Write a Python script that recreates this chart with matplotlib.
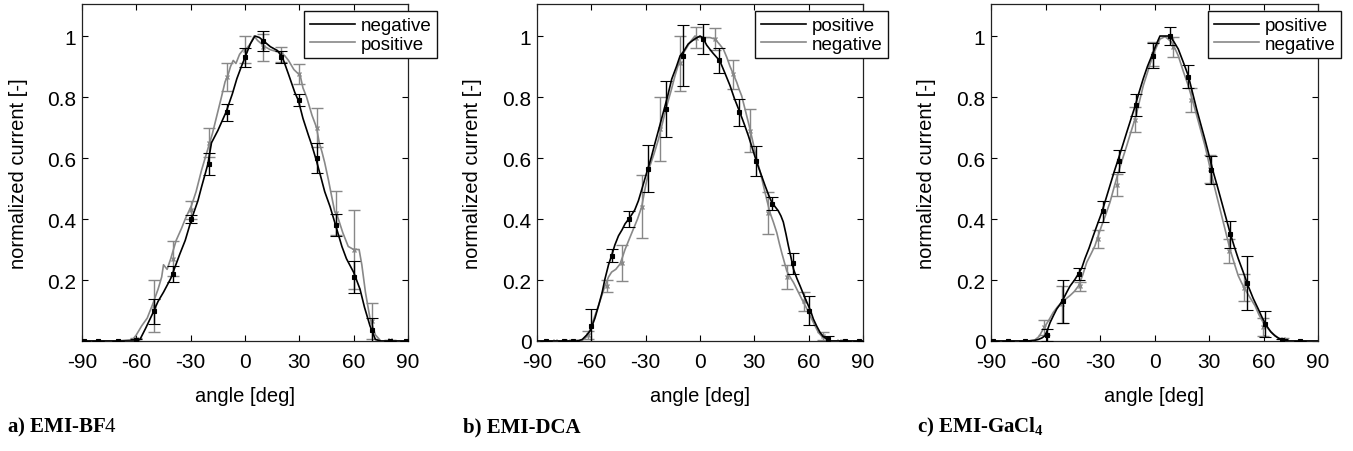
import matplotlib
matplotlib.use("Agg")
import matplotlib.pyplot as plt

plt.rcParams['font.family'] = ['Liberation Sans', 'DejaVu Sans']
plt.rcParams['mathtext.fontset'] = 'custom'
plt.rcParams['mathtext.rm'] = 'Liberation Serif'
plt.rcParams['mathtext.bf'] = 'Liberation Serif:bold'

BLACK = '#000000'
GRAY = '#888888'

# ---------------- Panel a: EMI-BF4 ----------------
a_neg_x = [-90, -70, -60, -58, -55, -51, -48, -45, -41, -36,
           -33, -29.5, -26, -24, -20.5, -18.5, -15, -10.5, -7, -4.5,
           -2, 0, 3, 5.5, 8, 11, 14, 18, 21, 24,
           27.5, 29.5, 32, 35, 37, 39.5, 42, 44, 47, 49,
           51, 53.5, 56, 60, 63.5, 66, 69, 72, 75, 90]
a_neg_y = [0, 0, 0, 0.005, 0.04, 0.09, 0.13, 0.16, 0.205, 0.285,
           0.33, 0.40, 0.46, 0.505, 0.58, 0.65, 0.69, 0.75, 0.81, 0.86,
           0.90, 0.93, 0.975, 1.0, 0.995, 0.98, 0.965, 0.952, 0.925, 0.875,
           0.815, 0.788, 0.73, 0.675, 0.64, 0.59, 0.535, 0.49, 0.44, 0.40,
           0.36, 0.31, 0.27, 0.225, 0.17, 0.11, 0.05, 0.005, 0, 0]
a_pos_x = [-90, -70, -62, -60, -57, -54, -51, -48, -46, -45,
           -43, -41, -38, -35, -33, -29.5, -27, -24, -21, -18,
           -15.5, -13, -11, -9.5, -8, -6.5, -5, -3, -1, 1,
           3, 5, 7, 9, 11, 14, 17, 20, 22, 24,
           27, 30.5, 32, 34, 37, 39.5, 41, 42.5, 44, 46,
           48, 49.5, 51, 54, 57, 60, 63, 64.5, 66.5, 69,
           72, 75, 90]
a_pos_y = [0, 0, 0.005, 0.02, 0.05, 0.075, 0.12, 0.17, 0.21, 0.25,
           0.235, 0.27, 0.33, 0.37, 0.40, 0.445, 0.49, 0.56, 0.62, 0.68,
           0.74, 0.80, 0.85, 0.87, 0.90, 0.92, 0.91, 0.94, 0.955, 0.96,
           0.975, 1.0, 0.985, 0.975, 0.965, 0.955, 0.95, 0.945, 0.935, 0.92,
           0.89, 0.87, 0.83, 0.80, 0.74, 0.70, 0.65, 0.62, 0.585, 0.53,
           0.47, 0.425, 0.41, 0.355, 0.31, 0.30, 0.30, 0.25, 0.16, 0.075,
           0.02, 0.0, 0]
a_neg_ex = [-89, -81, -70, -60, -50, -40, -30, -20, -10, 0,
            10, 20, 30, 40, 50, 60, 70, 80, 89]
a_neg_ey = [0, 0, 0, 0.003, 0.097, 0.22, 0.40, 0.58, 0.75, 0.93,
            0.985, 0.93, 0.79, 0.60, 0.38, 0.21, 0.035, 0, 0]
a_neg_ee = [0, 0, 0, 0.005, 0.04, 0.025, 0.012, 0.035, 0.028, 0.03,
            0.033, 0.02, 0.02, 0.048, 0.037, 0.053, 0.04, 0, 0]
a_pos_ex = [-89, -81, -70, -60, -50, -40, -30, -20, -10, 0,
            10, 20, 30, 40, 50, 60, 70, 80, 89]
a_pos_ey = [0, 0, 0, 0.005, 0.115, 0.27, 0.43, 0.65, 0.865, 0.955,
            0.963, 0.94, 0.875, 0.70, 0.42, 0.30, 0.065, 0.002, 0]
a_pos_ee = [0, 0, 0, 0.005, 0.085, 0.058, 0.03, 0.047, 0.045, 0.045,
            0.045, 0.025, 0.032, 0.065, 0.073, 0.13, 0.058, 0, 0]

# ---------------- Panel b: EMI-DCA ----------------
b_pos_x = [-90, -68, -65, -62.5, -60.5, -58, -56, -54, -52.5, -50.5,
           -48.8, -47, -45, -43, -41.4, -38.6, -36, -34, -31.5, -29.4,
           -27, -24.8, -22.5, -20.3, -18, -15.6, -13, -11, -9, -6.5,
           -3, 0, 1.5, 3.7, 7, 11, 14, 16.6, 19, 22,
           24.5, 26.7, 29, 31.3, 33.5, 35.9, 37.8, 39.6, 41.5, 43.2,
           44.7, 46, 47.5, 48.8, 50.2, 51.6, 53.5, 55.3, 57, 59,
           61, 62.6, 64.5, 66.3, 68, 70, 72, 90]
b_pos_y = [0, 0, 0.005, 0.02, 0.035, 0.075, 0.116, 0.16, 0.203, 0.25,
           0.28, 0.315, 0.345, 0.365, 0.384, 0.406, 0.43, 0.46, 0.51, 0.553,
           0.60, 0.65, 0.70, 0.749, 0.80, 0.859, 0.90, 0.935, 0.95, 0.974,
           0.99, 1.0, 0.995, 0.97, 0.945, 0.918, 0.875, 0.837, 0.795, 0.75,
           0.71, 0.673, 0.63, 0.586, 0.55, 0.51, 0.48, 0.455, 0.44, 0.427,
           0.41, 0.39, 0.35, 0.312, 0.275, 0.236, 0.205, 0.18, 0.155, 0.127,
           0.10, 0.072, 0.048, 0.028, 0.015, 0.007, 0, 0]
b_neg_x = [-90, -66, -63.5, -61.7, -60, -58, -55, -52.5, -50.5, -48.8,
           -46.5, -44.2, -42.8, -41.4, -39, -36.8, -34.5, -32.2, -30, -27.6,
           -25.3, -23, -20.7, -18.4, -16, -13.8, -12, -10.1, -8, -5.5,
           -2.8, 0, 3, 5.5, 8.3, 10.5, 12.9, 14.8, 16.6, 18.4,
           20.3, 21.6, 23, 25.3, 27.6, 29.5, 31.3, 33.2, 35, 36.8,
           38.7, 40.5, 42.4, 43.8, 45.1, 46.5, 47.9, 49.7, 51.6, 54.3,
           57.1, 59.5, 61.7, 63.5, 65.4, 67.3, 69.1, 72, 90]
b_neg_y = [0, 0, 0.008, 0.023, 0.05, 0.083, 0.135, 0.18, 0.21, 0.226,
           0.235, 0.252, 0.275, 0.30, 0.335, 0.367, 0.40, 0.44, 0.51, 0.575,
           0.615, 0.66, 0.715, 0.77, 0.82, 0.87, 0.905, 0.935, 0.955, 0.98,
           1.0, 0.995, 0.995, 0.995, 0.99, 0.975, 0.957, 0.93, 0.90, 0.875,
           0.848, 0.825, 0.804, 0.75, 0.695, 0.645, 0.597, 0.555, 0.51, 0.465,
           0.42, 0.39, 0.355, 0.32, 0.29, 0.26, 0.23, 0.21, 0.192, 0.16,
           0.127, 0.10, 0.072, 0.05, 0.028, 0.015, 0.008, 0, 0]
b_pos_ex = [-85, -75, -70, -60.2, -48.8, -39, -28.5, -19, -9.2, 1.8,
            10.7, 21.5, 30.9, 39.9, 51.2, 60.4, 70.9, 80, 88]
b_pos_ey = [0, 0, 0, 0.05, 0.28, 0.40, 0.565, 0.76, 0.935, 0.99,
            0.92, 0.75, 0.59, 0.45, 0.255, 0.10, 0.005, 0, 0]
b_pos_ee = [0, 0, 0, 0.055, 0.022, 0.025, 0.078, 0.092, 0.10, 0.048,
            0.04, 0.045, 0.05, 0.022, 0.035, 0.049, 0.01, 0, 0]
b_neg_ex = [-80, -73, -69, -61.7, -51.5, -43.2, -32.2, -22.1, -11, -2.2,
            8.3, 18.4, 27.6, 37.7, 48.2, 57.6, 68.1, 76.7, 79.5]
b_neg_ey = [0, 0, 0, 0.02, 0.18, 0.257, 0.44, 0.695, 0.91, 0.995,
            0.99, 0.875, 0.69, 0.42, 0.21, 0.13, 0.015, 0, 0]
b_neg_ee = [0, 0, 0, 0.012, 0.019, 0.059, 0.103, 0.105, 0.09, 0.035,
            0.037, 0.048, 0.07, 0.07, 0.039, 0.03, 0.013, 0, 0]

# ---------------- Panel c: EMI-GaCl4 ----------------
c_pos_x = [-90, -70, -66, -64, -62, -60.3, -59, -57.5, -55.5, -53.8,
           -52, -50.2, -48.3, -46.5, -44, -41.9, -40, -38.3, -36, -33.7,
           -31.4, -29.1, -26.8, -24.5, -22.2, -19.9, -17.6, -15.3, -13, -10.7,
           -8.5, -6.2, -3.9, -1.5, 0.8, 3, 5.8, 8.5, 10.8, 13.1,
           15.8, 18.6, 20.9, 23.2, 25.5, 27.8, 30.1, 32.4, 34.7, 37,
           39.3, 41.6, 43.9, 46.1, 48.9, 51.6, 54.3, 57.1, 59.4, 61.7,
           64, 66.3, 68.6, 70.9, 74, 90]
c_pos_y = [0, 0, 0.002, 0.005, 0.01, 0.017, 0.035, 0.06, 0.085, 0.105,
           0.12, 0.138, 0.16, 0.18, 0.2, 0.22, 0.24, 0.27, 0.305, 0.345,
           0.383, 0.42, 0.465, 0.51, 0.555, 0.597, 0.64, 0.684, 0.727, 0.77,
           0.815, 0.86, 0.9, 0.935, 0.97, 1.0, 1.0, 1.0, 0.98, 0.957,
           0.915, 0.87, 0.815, 0.76, 0.71, 0.66, 0.607, 0.553, 0.505, 0.455,
           0.405, 0.355, 0.31, 0.27, 0.225, 0.18, 0.14, 0.105, 0.075, 0.05,
           0.03, 0.017, 0.008, 0.003, 0, 0]
c_neg_x = [-90, -70, -66, -63.5, -61.2, -58.5, -55.7, -53.4, -51.1, -48.8,
           -46.5, -44.2, -41.9, -39.6, -37.3, -35, -32.8, -31, -29.1, -26.8,
           -24.5, -22.2, -19.9, -17.6, -15.3, -13, -10.7, -8.5, -6.2, -3.9,
           -1.5, 0.8, 3, 5.8, 7.5, 9.4, 11.2, 13.1, 15.8, 18.6,
           20.9, 23.2, 25.5, 27.8, 30.1, 32.4, 34.7, 37, 39.3, 41.6,
           43.9, 46.1, 48, 49.8, 52.5, 55.3, 57.6, 59.9, 62.6, 65.4,
           67.7, 70, 73, 90]
c_neg_y = [0, 0, 0.003, 0.015, 0.04, 0.065, 0.094, 0.112, 0.127, 0.138,
           0.149, 0.162, 0.18, 0.215, 0.258, 0.285, 0.312, 0.345, 0.378, 0.415,
           0.455, 0.505, 0.553, 0.597, 0.64, 0.685, 0.728, 0.78, 0.837, 0.88,
           0.925, 0.96, 0.99, 0.998, 0.99, 0.98, 0.96, 0.935, 0.885, 0.837,
           0.79, 0.74, 0.69, 0.64, 0.58, 0.52, 0.465, 0.41, 0.355, 0.30,
           0.255, 0.214, 0.19, 0.17, 0.143, 0.116, 0.085, 0.06, 0.04, 0.023,
           0.012, 0.005, 0, 0]
c_pos_ex = [-89, -80.5, -71.3, -59.4, -50.5, -41.4, -28.5, -19.5, -10.2, -0.7,
            8.5, 18.3, 30.9, 41.6, 51.1, 60.8, 70, 80]
c_pos_ey = [0, 0, 0, 0.02, 0.13, 0.22, 0.425, 0.59, 0.775, 0.935,
            1.0, 0.866, 0.56, 0.35, 0.19, 0.055, 0.003, 0]
c_pos_ee = [0, 0, 0, 0.02, 0.07, 0.019, 0.035, 0.036, 0.036, 0.041,
            0.028, 0.038, 0.046, 0.044, 0.089, 0.042, 0.005, 0]
c_neg_ex = [-89, -80.5, -71.3, -60.8, -51.1, -41, -30.9, -20.8, -10.7, -0.7,
            10, 19.9, 30.5, 41.2, 49.3, 59.6, 70.6, 80]
c_neg_ey = [0, 0, 0, 0.045, 0.12, 0.18, 0.335, 0.51, 0.725, 0.94,
            0.965, 0.79, 0.565, 0.295, 0.175, 0.045, 0.005, 0]
c_neg_ee = [0, 0, 0, 0.024, 0.06, 0.015, 0.03, 0.036, 0.041, 0.039,
            0.033, 0.04, 0.046, 0.038, 0.045, 0.03, 0.005, 0]

x_ticks = [-90, -60, -30, 0, 30, 60, 90]
y_ticks_a = [0.2, 0.4, 0.6, 0.8, 1.0]
y_tick_labels_a = ['0.2', '0.4', '0.6', '0.8', '1']
y_ticks_bc = [0, 0.2, 0.4, 0.6, 0.8, 1.0]
y_tick_labels_bc = ['0', '0.2', '0.4', '0.6', '0.8', '1']

captions = ['a) EMI-BF$\\mathrm{4}$', 'b) EMI-DCA', 'c) EMI-GaCl$_\\mathbf{4}$']

W, H = 1353, 452
fig = plt.figure(figsize=(W / 100, H / 100), dpi=100)

axes_px = [(82, 326), (537, 326), (991, 327)]
ax_top, ax_bot = 5, 342

panels = [
    dict(black=(a_neg_x, a_neg_y, a_neg_ex, a_neg_ey, a_neg_ee, 'negative'),
         gray=(a_pos_x, a_pos_y, a_pos_ex, a_pos_ey, a_pos_ee, 'positive'),
         yt=y_ticks_a, ytl=y_tick_labels_a, leg_x=1.089),
    dict(black=(b_pos_x, b_pos_y, b_pos_ex, b_pos_ey, b_pos_ee, 'positive'),
         gray=(b_neg_x, b_neg_y, b_neg_ex, b_neg_ey, b_neg_ee, 'negative'),
         yt=y_ticks_bc, ytl=y_tick_labels_bc, leg_x=1.077),
    dict(black=(c_pos_x, c_pos_y, c_pos_ex, c_pos_ey, c_pos_ee, 'positive'),
         gray=(c_neg_x, c_neg_y, c_neg_ex, c_neg_ey, c_neg_ee, 'negative'),
         yt=y_ticks_bc, ytl=y_tick_labels_bc, leg_x=1.070),
]
cap_x = [7, 463, 917]

for i, (p, (lx, wpx)) in enumerate(zip(panels, axes_px)):
    ax = fig.add_axes([lx / W, (H - ax_bot) / H, wpx / W, (ax_bot - ax_top) / H])
    gx, gy, gex, gey, gee, glab = p['gray']
    bx, by, bex, bey, bee, blab = p['black']
    # gray series
    ax.errorbar(gex, gey, yerr=gee, fmt='x', color=GRAY, ms=3.5, mew=1.0,
                elinewidth=1.0, capsize=4, capthick=1.0, zorder=2)
    lg, = ax.plot(gx, gy, color=GRAY, lw=1.2, zorder=2, label=glab)
    # black series
    ax.errorbar(bex, bey, yerr=bee, fmt='s', color=BLACK, ms=2.5, mew=0.8,
                elinewidth=1.0, capsize=4, capthick=1.0, zorder=3)
    lb, = ax.plot(bx, by, color=BLACK, lw=1.2, zorder=3, label=blab)

    ax.set_xlim(-90, 90)
    ax.set_ylim(0, 1.105)
    ax.set_xticks(x_ticks)
    ax.set_xticklabels([str(t) for t in x_ticks])
    ax.set_yticks(p['yt'])
    ax.set_yticklabels(p['ytl'])
    ax.tick_params(axis='both', direction='in', length=4, width=0.8,
                   top=True, right=True, labelsize=15)
    ax.tick_params(axis='x', pad=8)
    ax.tick_params(axis='y', pad=4)
    for s in ax.spines.values():
        s.set_linewidth(0.9)
        s.set_color('#222222')
    ax.set_xlabel('angle [deg]', fontsize=14.5)
    ax.xaxis.set_label_coords(0.5, -0.163)
    ax.xaxis.label.set_va('center')
    ax.set_ylabel('normalized current [-]', fontsize=14.5)
    ax.yaxis.set_label_coords(-64 / wpx, 0.5)
    ax.yaxis.label.set_va('center')

    leg = ax.legend(handles=[lb, lg], loc='upper right',
                    bbox_to_anchor=(p['leg_x'], 0.978), fontsize=13.5,
                    frameon=True, fancybox=False, framealpha=1,
                    edgecolor='#111111', handlelength=2.4, handletextpad=0.32,
                    labelspacing=0.08, borderpad=0.3, borderaxespad=0)
    leg.get_frame().set_linewidth(1.0)
    leg.set_zorder(10)

    fig.text(cap_x[i] / W, (H - 432) / H, captions[i], fontsize=15,
             fontweight='bold', family='Liberation Serif', ha='left', va='baseline')

fig.savefig('out.png', dpi=100)
